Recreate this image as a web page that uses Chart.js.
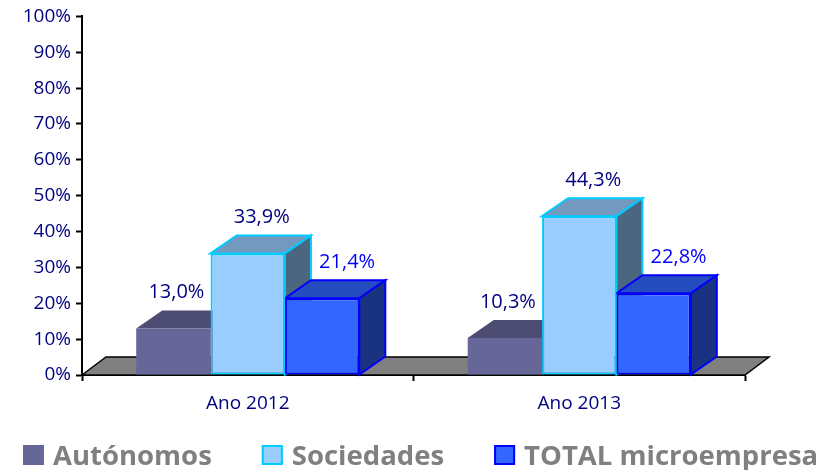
<!DOCTYPE html>
<html><head><meta charset="utf-8">
<script src="https://cdn.jsdelivr.net/npm/chart.js@4.4.1/dist/chart.umd.min.js"></script>
<style>html,body{margin:0;padding:0;background:#fff;overflow:hidden}canvas{display:block}</style>
</head><body>
<canvas id="c" width="816" height="470"></canvas>
<script>
const categories = ['Ano 2012', 'Ano 2013'];
const seriesNames = ['Autónomos', 'Sociedades', 'TOTAL microempresas'];
const autonomos = [13.0, 10.3];
const sociedades = [33.9, 44.3];
const totalMicro = [21.4, 22.8];
const yTickValues = [0, 10, 20, 30, 40, 50, 60, 70, 80, 90, 100];

const FONT = "'Open Sans', sans-serif";
const frontColors = ['#666699', '#99CCFF', '#3366FF'];
const borderColors = ['#666699', '#00CCFF', '#0000FF'];
const borderWidths = [0, 2, 2];
const topColors = ['#4D4D73', '#7399BF', '#264DBF'];
const sideColors = ['#3D3D5C', '#4D6680', '#1A3380'];
const labelColors = ['#000080', '#000080', '#0000FF'];
const labelShift = [3, 14, 25];
const depth = {dx: 26, dy: 18};
const floorDepth = {dx: 24, dy: 18};

function facePath(ctx, pts) {
  ctx.beginPath();
  ctx.moveTo(pts[0][0], pts[0][1]);
  for (let k = 1; k < pts.length; k++) ctx.lineTo(pts[k][0], pts[k][1]);
  ctx.closePath();
}
const fmt = v => v.toFixed(1).replace('.', ',') + '%';

const bar3d = {
  id: 'bar3d',
  beforeDatasetsDraw(chart) {
    const ctx = chart.ctx, ca = chart.chartArea;
    ctx.save();
    const b = chart.scales.y.getPixelForValue(0);
    facePath(ctx, [[ca.left, b], [ca.left + floorDepth.dx, b - floorDepth.dy], [ca.right + floorDepth.dx, b - floorDepth.dy], [ca.right, b]]);
    ctx.fillStyle = '#808080'; ctx.fill();
    ctx.lineWidth = 1.5; ctx.strokeStyle = '#000'; ctx.lineJoin = 'miter'; ctx.stroke();
    const n = chart.data.labels.length;
    for (let i = 0; i < n; i++) {
      chart.data.datasets.forEach((ds, d) => {
        const el = chart.getDatasetMeta(d).data[i];
        const p = el.getProps(['x', 'y', 'base', 'width'], true);
        const l = p.x - p.width / 2, r = p.x + p.width / 2;
        const dx = depth.dx, dy = depth.dy;
        facePath(ctx, [[l, p.y], [l + dx, p.y - dy], [r + dx, p.y - dy], [r, p.y]]);
        ctx.fillStyle = topColors[d]; ctx.fill();
        if (borderWidths[d]) { ctx.lineWidth = borderWidths[d]; ctx.strokeStyle = borderColors[d]; ctx.stroke(); }
        facePath(ctx, [[r, p.y], [r + dx, p.y - dy], [r + dx, p.base - dy], [r, p.base]]);
        ctx.fillStyle = sideColors[d]; ctx.fill();
        if (borderWidths[d]) { ctx.lineWidth = borderWidths[d]; ctx.strokeStyle = borderColors[d]; ctx.stroke(); }
      });
    }
    ctx.restore();
  },
  afterDatasetsDraw(chart) {
    const ctx = chart.ctx;
    ctx.save();
    ctx.font = '20px ' + FONT;
    ctx.textAlign = 'center';
    ctx.textBaseline = 'alphabetic';
    chart.data.datasets.forEach((ds, d) => {
      chart.getDatasetMeta(d).data.forEach((el, i) => {
        const p = el.getProps(['x', 'y'], true);
        ctx.fillStyle = labelColors[d];
        ctx.fillText(fmt(ds.data[i]), p.x + labelShift[d], p.y - 30);
      });
    });
    ctx.restore();
  },
  afterDraw(chart) {
    const ctx = chart.ctx;
    ctx.save();
    ctx.font = 'bold 27.5px ' + FONT;
    ctx.textAlign = 'left';
    ctx.textBaseline = 'alphabetic';
    let x = 23;
    const top = 445, h = 20, w = 21;
    chart.data.datasets.forEach((ds, d) => {
      ctx.fillStyle = frontColors[d];
      ctx.fillRect(x, top, w, h);
      if (borderWidths[d]) { ctx.strokeStyle = borderColors[d]; ctx.lineWidth = 2; ctx.strokeRect(x + 1, top + 1, w - 2, h - 2); }
      ctx.fillStyle = '#808080';
      ctx.fillText(ds.label, x + 30, top + h);
      x += 30 + ctx.measureText(ds.label).width + 50;
    });
    ctx.restore();
  }
};

const seriesData = [autonomos, sociedades, totalMicro];
new Chart(document.getElementById('c'), {
  type: 'bar',
  data: {
    labels: categories,
    datasets: seriesNames.map((name, d) => ({
      label: name,
      data: seriesData[d],
      backgroundColor: frontColors[d],
      borderColor: borderColors[d],
      borderWidth: borderWidths[d],
      borderSkipped: false,
      categoryPercentage: 0.673,
      barPercentage: 1.0
    }))
  },
  options: {
    responsive: false,
    animation: false,
    devicePixelRatio: 1,
    layout: {padding: {left: 0, right: 71, top: 15, bottom: 55}},
    plugins: {legend: {display: false}, tooltip: {enabled: false}},
    scales: {
      x: {
        grid: {display: true, drawOnChartArea: false, drawTicks: true, tickLength: 6, tickWidth: 2, tickColor: '#000', offset: true},
        border: {display: true, color: '#000', width: 2},
        ticks: {font: {family: FONT, size: 19}, color: '#000080', padding: 11},
        afterFit(scale) { scale.height = 40; }
      },
      y: {
        min: 0, max: 100,
        afterBuildTicks(scale) { scale.ticks = yTickValues.map(v => ({value: v})); },
        grid: {display: true, drawOnChartArea: false, drawTicks: true, tickLength: 6, tickWidth: 2, tickColor: '#000'},
        border: {display: true, color: '#000', width: 2},
        ticks: {font: {family: FONT, size: 19}, color: '#000080', padding: 5, callback: v => v + '%'},
        afterFit(scale) { scale.width = 82; }
      }
    }
  },
  plugins: [bar3d]
});
</script>
</body></html>
